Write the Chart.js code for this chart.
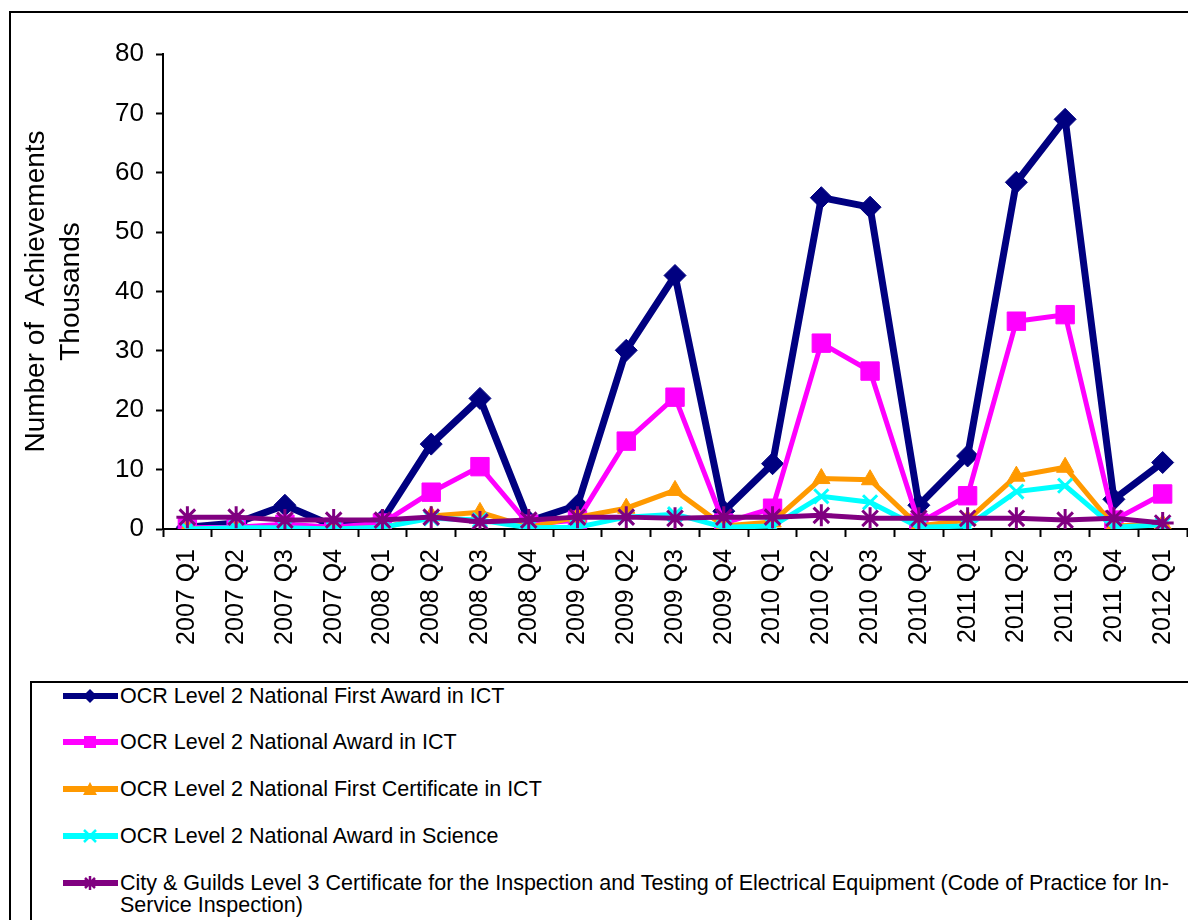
<!DOCTYPE html>
<html>
<head>
<meta charset="utf-8">
<script src="https://cdn.jsdelivr.net/npm/chart.js@4"></script>
<style>
  html, body { margin: 0; padding: 0; background: #fff; }
  body { width: 1188px; height: 920px; position: relative; overflow: hidden; font-family: "Liberation Sans", Arial, sans-serif; }
  #frame { position: absolute; left: 9px; top: 11px; width: 1300px; height: 1000px; border: 2px solid #000; box-sizing: border-box; }
  #chart-wrap { position: absolute; left: 0; top: 0; width: 1205px; height: 660px; }
  #legend { position: absolute; left: 30px; top: 681px; width: 1300px; height: 400px; border: 2px solid #000; box-sizing: border-box; }
  .leg-item { position: absolute; left: 31px; display: flex; align-items: flex-start; font-size: 21.5px; line-height: 22px; color: #000; }
  .leg-item svg { flex: none; margin-right: 2px; }
  .leg-item span { width: 1066px; }
</style>
</head>
<body>
<div id="frame"></div>
<div id="chart-wrap"><canvas id="chart"></canvas></div>
<div id="legend"></div>
<script>
(function () {
  'use strict';

  // 분기 라벨
  const QUARTERS = ['2007 Q1', '2007 Q2', '2007 Q3', '2007 Q4', '2008 Q1', '2008 Q2', '2008 Q3', '2008 Q4',
    '2009 Q1', '2009 Q2', '2009 Q3', '2009 Q4', '2010 Q1', '2010 Q2', '2010 Q3', '2010 Q4',
    '2011 Q1', '2011 Q2', '2011 Q3', '2011 Q4', '2012 Q1'];

  const SERIES_NAMES = [
    'OCR Level 2 National First Award in ICT',
    'OCR Level 2 National Award in ICT',
    'OCR Level 2 National First Certificate in ICT',
    'OCR Level 2 National Award in Science',
    'City & Guilds Level 3 Certificate for the Inspection and Testing of Electrical Equipment (Code of Practice for In-Service Inspection)'
  ];

  // 천 단위 값
  const FIRST_AWARD_ICT = [0.3, 1, 4, 0.5, 1.5, 14.3, 22, 1.3, 4, 30.1, 42.7, 3, 11, 55.8, 54.2, 4, 12.3, 58.4, 69, 5, 11.2];
  const AWARD_ICT = [0.2, 0.3, 0.8, 0.3, 1, 6.2, 10.5, 0.8, 1.5, 14.8, 22.2, 1, 3.5, 31.3, 26.6, 1, 5.6, 35, 36.1, 1.5, 5.9];
  const FIRST_CERT_ICT = [0, 0, 0.1, 0, 0.2, 2.2, 2.8, 0.3, 2, 3.5, 6.5, 0.5, 1.2, 8.5, 8.3, 0.5, 1.5, 8.9, 10.4, 0.5, 0.8];
  const AWARD_SCIENCE = [0, 0.2, 0.2, 0, 0.3, 1.8, 1.5, 0.2, 0.3, 2, 2.5, 0.3, 0.5, 5.5, 4.5, 0.3, 0.5, 6.3, 7.3, 0.3, 0.7];
  const CG_INSPECTION = [2, 2, 1.5, 1.5, 1.5, 2, 1.2, 1.5, 2, 2, 1.8, 2, 2, 2.3, 1.8, 1.8, 1.8, 1.8, 1.5, 1.8, 1];

  const Y_TICKS = [0, 10, 20, 30, 40, 50, 60, 70, 80];

  const COLORS = ['#000080', '#ff00ff', '#ff9900', '#00ffff', '#800080'];
  const POINT_STYLES = ['rectRot', 'rect', 'triangle', 'crossRot', 'star'];
  const POINT_RADII = [11, 13, 10, 10, 11];
  const LINE_WIDTHS = [7, 5, 5, 5, 5];
  const VALUES = [FIRST_AWARD_ICT, AWARD_ICT, FIRST_CERT_ICT, AWARD_SCIENCE, CG_INSPECTION];

  var FONT = '"Liberation Sans", Arial, sans-serif';

  var datasets = VALUES.map(function (vals, i) {
    var thin = POINT_STYLES[i] === 'crossRot' || POINT_STYLES[i] === 'star';
    return {
      label: SERIES_NAMES[i],
      data: vals,
      borderColor: COLORS[i],
      backgroundColor: COLORS[i],
      borderWidth: LINE_WIDTHS[i],
      pointStyle: POINT_STYLES[i],
      pointRadius: POINT_RADII[i],
      pointBorderColor: COLORS[i],
      pointBackgroundColor: COLORS[i],
      pointBorderWidth: thin ? 3 : 1,
      tension: 0,
      order: VALUES.length - i
    };
  });

  new Chart(document.getElementById('chart'), {
    type: 'line',
    data: { labels: QUARTERS, datasets: datasets },
    options: {
      responsive: true,
      maintainAspectRatio: false,
      animation: false,
      layout: { padding: { top: 54, right: 0, bottom: 0, left: 0 } },
      plugins: { legend: { display: false }, tooltip: { enabled: false } },
      scales: {
        x: {
          type: 'category',
          offset: true,
          grid: { display: true, offset: true, drawOnChartArea: false, tickLength: 8, color: '#000', tickWidth: 2 },
          border: { display: true, color: '#000', width: 2 },
          ticks: { color: '#000', font: { family: FONT, size: 25 }, minRotation: 90, maxRotation: 90, autoSkip: false, padding: 12 },
          afterFit: function (scale) { scale.height = 131; }
        },
        y: {
          min: 0,
          max: 80,
          afterBuildTicks: function (scale) { scale.ticks = Y_TICKS.map(function (v) { return { value: v }; }); },
          grid: { display: true, drawOnChartArea: false, tickLength: 7, color: '#000', tickWidth: 2 },
          border: { display: true, color: '#000', width: 2 },
          ticks: { color: '#000', font: { family: FONT, size: 26 }, padding: 12 },
          title: {
            display: true,
            text: ['Number of  Achievements', 'Thousands'],
            color: '#000',
            font: { family: FONT, size: 28, lineHeight: 1.25 },
            padding: { top: 19, bottom: 0 }
          },
          afterFit: function (scale) { scale.width = 163; }
        }
      }
    }
  });

  // 범례 (HTML)
  var legend = document.getElementById('legend');
  var LEG_TOPS = [2, 48, 95, 142, 189];
  SERIES_NAMES.forEach(function (name, i) {
    var item = document.createElement('div');
    item.className = 'leg-item';
    item.style.top = LEG_TOPS[i] + 'px';
    var c = COLORS[i];
    var mk = '';
    if (POINT_STYLES[i] === 'rectRot') mk = '<polygon points="27,4 34,11 27,18 20,11" fill="' + c + '"/>';
    else if (POINT_STYLES[i] === 'rect') mk = '<rect x="21" y="5" width="12" height="12" fill="' + c + '"/>';
    else if (POINT_STYLES[i] === 'triangle') mk = '<polygon points="27,4 34,17 20,17" fill="' + c + '"/>';
    else if (POINT_STYLES[i] === 'crossRot') mk = '<path d="M21,5 L33,17 M33,5 L21,17" stroke="' + c + '" stroke-width="2.5"/>';
    else mk = '<path d="M22,6 L32,16 M32,6 L22,16 M27,4 L27,18" stroke="' + c + '" stroke-width="2.5"/>';
    item.innerHTML = '<svg width="55" height="22"><line x1="0" y1="11" x2="55" y2="11" stroke="' + c + '" stroke-width="6"/>' + mk + '</svg><span></span>';
    item.querySelector('span').textContent = name;
    legend.appendChild(item);
  });
})();
</script>
</body>
</html>
